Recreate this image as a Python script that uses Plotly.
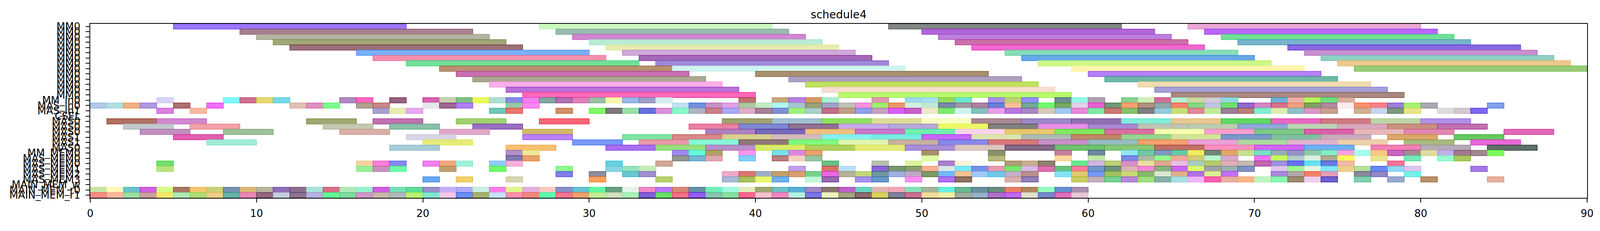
"""Gantt-style schedule chart (schedule4) rebuilt with Plotly."""

import plotly.graph_objects as go

# ---- row labels (top to bottom) -------------------------------------------
ROW_LABELS = (
    ["MM0"] * 14
    + ["MM_in0", "MAS_in0", "MAS_in1", "CSEL",
       "MAS0", "MAS0", "MAS0", "MAS1", "MAS1", "MAS0",
       "MM_MEM0", "MAS_MEM0", "MAS_MEM0", "MAS_MEM1", "MAS_MEM2", "MAS_MEM3",
       "MAIN_MEM_w", "MAIN_MEM_r0", "MAIN_MEM_r1"]
)

X_TICKS = [0, 10, 20, 30, 40, 50, 60, 70, 80, 90]

# ---- MM0 rows: 14-unit tasks ----------------------------------------------
MM0_LEN = 14
MM0_STARTS = [
    [5, 27, 48, 66],
    [9, 28, 50, 67],
    [10, 29, 51, 68],
    [11, 30, 52, 69],
    [12, 31, 53, 72],
    [16, 32, 55, 73],
    [17, 33, 56, 74],
    [19, 34, 57, 75],
    [21, 35, 59, 76],
    [22, 40, 60],
    [23, 42, 61],
    [24, 43, 63],
    [25, 44, 64],
    [26, 45, 65],
]
MM0_COLORS = [
    ["#9b77f8", "#ccf8c0", "#848884", "#e8a8d4"],
    ["#a88090", "#98bcb0", "#b068d8", "#b868f8"],
    ["#b4b4a4", "#d088d0", "#bc80dc", "#70e098"],
    ["#a0a878", "#b8ecd4", "#cc70a8", "#78b4cc"],
    ["#9c7078", "#e8ecb0", "#f068d0", "#8868e0"],
    ["#78b0f8", "#d0a8d8", "#88dcb8", "#c890d0"],
    ["#f490b0", "#a468b8", "#68a8e8", "#90d0c4"],
    ["#70e098", "#a088d8", "#ccf888", "#ecc890"],
    ["#b89070", "#d0f4f0", "#fff4b0", "#98cc78"],
    ["#c870b0", "#a89070", "#b480f4"],
    ["#aca890", "#aca0c0", "#70b8a8"],
    ["#f8b0e8", "#c0e060", "#f0dcb0"],
    ["#b870d8", "#f8dcd0", "#a4a0d8"],
    ["#ff68b8", "#b8f870", "#a88880"],
]

# ---- input rows: 1-unit tasks ---------------------------------------------
MM_IN0_STARTS = [4, 8, 9, 10, 11, 15, 16, 18, 20, 21, 22, 23, 24, 25, 26, 27,
                 28, 29, 30, 31, 32, 33, 34, 39, 41, 42, 43, 44, 47, 49, 50,
                 51, 52, 54, 55, 56, 58, 59, 60, 62, 63, 64, 65, 66, 67, 68,
                 71, 72, 73, 74, 75]
MM_IN0_COLORS = ["#d8d4f8", "#7ff8f8", "#d07090", "#e4d870", "#78d8e8",
                 "#b088c0", "#f868c0", "#986080", "#d860b0", "#c8d0b0",
                 "#80c088", "#e8f860", "#b0dcd4", "#8888e8", "#f080f0",
                 "#80a8a0", "#b070b0", "#e080b8", "#98c0a8", "#f8f8a8",
                 "#98b8e8", "#9ca0c8", "#d4ecf0", "#c07070", "#c8a880",
                 "#b880e0", "#d89868", "#a8f0d0", "#e098b0", "#a0d8e8",
                 "#a8dcf4", "#98d860", "#70e4d0", "#a890e8", "#c0d078",
                 "#9090f8", "#708c98", "#90f8e8", "#aca0b0", "#88d090",
                 "#d0f0b8", "#d07098", "#b8f0d0", "#d0d8a8", "#d4ccd8",
                 "#90d8e0", "#70b0d8", "#ecb0a8", "#b8f860", "#70e080",
                 "#d8b0a0"]

MAS_IN0_STARTS = [0, 1, 2, 3, 5, 7, 12, 13, 14, 16, 17, 20, 21, 22, 25, 26,
                  35, 36, 37, 38, 39, 40, 41, 42, 43, 44, 45, 46, 47, 48, 49,
                  50, 51, 52, 53, 54, 55, 56, 57, 58, 59, 60, 61, 62, 63, 64,
                  65, 66, 67, 68, 69, 70, 71, 72, 73, 74, 75, 76, 77, 78, 79,
                  80, 84]
MAS_IN0_COLORS = ["#b0c8e8", "#b0e0e0", "#f0b080", "#b098e0", "#b07070",
                  "#f070f8", "#e0c0b0", "#e090c0", "#80f890", "#b0a090",
                  "#c88888", "#e4e8ec", "#a06890", "#b080f0", "#98c8a8",
                  "#f888f0", "#c0e0f0", "#7090e0", "#c890c0", "#e0a0e8",
                  "#acc8a0", "#c4ecc4", "#b0f8f0", "#a8c4d4", "#98a078",
                  "#a0a0c8", "#c0c0b8", "#f890e0", "#a0ec70", "#e89868",
                  "#d4f0e0", "#c0e8d0", "#7888a8", "#a098a0", "#b080a0",
                  "#6880d8", "#f8c098", "#70a898", "#70f870", "#78a860",
                  "#e4d0e8", "#e860d0", "#709878", "#f8a070", "#b09080",
                  "#90a8a8", "#f88070", "#88d880", "#c0c4e4", "#70e070",
                  "#9068d0", "#d088c0", "#d87088", "#f0a080", "#80a060",
                  "#b088a0", "#fcecec", "#f89070", "#f88088", "#9c80d8",
                  "#a8f070", "#a8a8b4", "#80a0e8"]

MAS_IN1_STARTS = [4, 6, 17, 18, 19, 24, 25, 28, 30, 31, 32, 33, 34, 35, 36,
                  37, 38, 39, 40, 41, 42, 43, 44, 45, 46, 47, 48, 49, 50, 51,
                  52, 53, 54, 55, 56, 57, 58, 59, 60, 61, 62, 63, 64, 65, 66,
                  67, 68, 69, 70, 71, 72, 73, 74, 76, 77, 78, 79, 81, 82, 83]
MAS_IN1_COLORS = ["#d880e0", "#f8b8a0", "#a8a0d0", "#e8ecb0", "#e8a8f0",
                  "#70c8b8", "#e87870", "#d09068", "#80f868", "#807880",
                  "#98e0a8", "#6870e0", "#d890d8", "#88f8c8", "#b0b4c0",
                  "#c88088", "#a8a8f8", "#dcb0c4", "#a88098", "#8090d0",
                  "#a0f080", "#a8d0cc", "#c07088", "#c0a088", "#90a0e8",
                  "#c4a0c0", "#d860f8", "#c860c8", "#ece8c8", "#80e870",
                  "#ccf4ec", "#88c0c0", "#e8a0e8", "#b878e0", "#a888c0",
                  "#d8c8b8", "#a0c8f0", "#e888d8", "#80e8a8", "#c87870",
                  "#88c070", "#808080", "#98c8d8", "#c8e078", "#e08898",
                  "#c0ec98", "#988098", "#b88078", "#80f0d0", "#e0ecb0",
                  "#90c0c8", "#d898c0", "#c8a090", "#d0b090", "#c8d4f0",
                  "#809880", "#e8e488", "#dcdce0", "#d4c8d0", "#8068f0"]

CSEL_STARTS = []
CSEL_COLORS = []

# ---- MAS rows: 3-unit tasks -----------------------------------------------
MAS_LEN = 3
MAS_STARTS = [
    [1, 4, 13, 17, 22, 27, 38, 41, 44, 47, 50, 53, 56, 59, 62, 65, 68, 71,
     74, 77, 80],
    [2, 6, 14, 18, 23, 36, 39, 42, 45, 48, 51, 54, 57, 60, 63, 66, 69, 72,
     75, 78, 81],
    [3, 8, 15, 21, 26, 37, 40, 43, 46, 49, 52, 55, 58, 61, 64, 67, 70, 73,
     76, 79, 85],
    [5, 19, 26, 32, 35, 38, 41, 44, 47, 50, 53, 56, 59, 62, 65, 68, 71, 74,
     78, 82],
    [7, 20, 29, 33, 36, 39, 42, 45, 48, 51, 54, 57, 60, 63, 66, 69, 72, 75,
     79, 83],
    [18, 25, 31, 34, 37, 40, 43, 46, 49, 52, 55, 58, 61, 64, 67, 70, 73, 77,
     80, 84],
]
MAS_COLORS = [
    ["#b07060", "#d088d0", "#a0a870", "#c070b0", "#a0d070", "#f86878",
     "#a0a070", "#a0c0d0", "#90e060", "#dcdc98", "#f8fcc0", "#a88890",
     "#9c88c8", "#9070b0", "#80ecd8", "#e8c890", "#60d860", "#e868c0",
     "#d07880", "#bcd4a8", "#b090e8"],
    ["#c0c8cc", "#f4a0a8", "#c4c8b0", "#88c0a8", "#9870c0", "#e880a0",
     "#8088d0", "#907090", "#c8a8e8", "#b4a8d8", "#ecf868", "#808080",
     "#e890e8", "#a888d0", "#c0c4b4", "#bcccb0", "#90a8d8", "#bcd4b4",
     "#d8a8bc", "#c89080", "#c070b0"],
    ["#c090c0", "#9cc098", "#d8b0a8", "#e0a8c8", "#d0b868", "#b080c0",
     "#7868b8", "#f0c080", "#c878c8", "#70f0b0", "#f8d4ec", "#e8c870",
     "#80e860", "#d870a0", "#f4fcb0", "#f8a0cc", "#80c888", "#d860a8",
     "#e8b8b8", "#e088b0", "#e068b8"],
    ["#e060b0", "#d8d4e4", "#b880f8", "#80e4a0", "#d88888", "#d8d090",
     "#d4bcbc", "#88f0f0", "#78ece0", "#c868f8", "#dce4b0", "#acbcb4",
     "#c08868", "#98d490", "#d0e498", "#7898c8", "#80c0a0", "#c8acbc",
     "#d8a868", "#68c860"],
    ["#a0ecd8", "#e4ec78", "#7898f8", "#e898a8", "#88f8d8", "#907878",
     "#80f880", "#e0f4b0", "#c8b0a0", "#8888e8", "#d87878", "#c890c8",
     "#98bcc0", "#f4a070", "#e8a0d8", "#acd8a0", "#e0b4d0", "#ecd0a8",
     "#a8b880", "#e868d8"],
    ["#a8ccd8", "#f8c070", "#a870f0", "#98e080", "#b890c8", "#d8ec68",
     "#b0d060", "#e4ec78", "#a890d8", "#dcc8c0", "#846c88", "#70c070",
     "#88c878", "#c07068", "#f890c0", "#d068f0", "#70b0f0", "#f080b8",
     "#b4acb8", "#607068"],
]

# ---- memory rows: 1-unit tasks --------------------------------------------
MEM_STARTS = [
    [25, 26, 35, 36, 37, 39, 41, 42, 43, 50, 54, 58, 60, 62, 63, 64, 65, 66,
     67, 68, 69, 70, 71, 72, 73, 74, 75, 76, 77, 78, 79, 80, 81, 82, 83, 84],
    [25, 26, 35, 36, 37, 39, 41, 42, 43, 50, 54, 58, 60, 62, 63, 64, 65, 66,
     67, 68, 70, 71, 72, 73, 74, 75, 77, 79, 81, 82],
    [4, 16, 17, 18, 20, 21, 22, 24, 25, 31, 34, 44, 47, 49, 51, 52, 55, 56,
     57, 59, 60, 61, 62, 63, 64, 65, 66, 67, 68, 69, 70, 71, 72, 73, 74, 75,
     78],
    [4, 16, 17, 18, 21, 24, 28, 31, 32, 33, 42, 44, 45, 47, 48, 49, 50, 51,
     52, 53, 54, 55, 56, 57, 58, 59, 60, 61, 62, 63, 64, 65, 66, 67, 68, 69,
     71, 72, 73, 74, 75, 76, 77, 78, 79, 83],
    [28, 30, 32, 33, 38, 39, 40, 41, 42, 43, 44, 45, 46, 47, 48, 49, 50, 51,
     52, 53, 54, 55, 56, 58, 59, 60, 61, 62, 63, 64, 65, 66, 67, 68, 71, 72,
     73, 74, 76, 77, 79],
    [20, 22, 25, 30, 34, 38, 39, 40, 41, 43, 44, 46, 47, 49, 51, 52, 55, 56,
     59, 60, 61, 62, 63, 64, 65, 66, 67, 68, 69, 70, 71, 72, 73, 74, 76, 78,
     80, 84],
]
MEM_COLORS = [
    ["#b090c8", "#ece898", "#a088f0", "#68f8d8", "#b0a068", "#f898e8",
     "#78e0e8", "#d888e0", "#e8a070", "#a89070", "#889070", "#c880a0",
     "#7088a0", "#90e8f0", "#70c8a8", "#8098c0", "#68c8a8", "#f0ec68",
     "#708878", "#e0a868", "#c8dc98", "#78e0c8", "#98acb8", "#9890c8",
     "#90c8a8", "#88ecc8", "#f8a0e0", "#a8fcf0", "#f8c888", "#c868c0",
     "#a88890", "#e0dca0", "#c0b0e8", "#a07890", "#a08890", "#80f860"],
    ["#8078b0", "#e8a068", "#909890", "#78b4d0", "#e0a8b0", "#80d0f4",
     "#b88080", "#f4d0c4", "#98c4a0", "#e0fca8", "#b8b880", "#fcd8a0",
     "#c0e8a8", "#7888e8", "#a8bca0", "#98f890", "#f4a898", "#d0cc78",
     "#b8f8d0", "#d8a8c8", "#e878f0", "#c8fc60", "#b4ccd0", "#dcf0e0",
     "#aca890", "#fcfc60", "#e8e490", "#78e8b8", "#98fcd0", "#a8c860"],
    ["#70e070", "#f4d4a0", "#f880d8", "#8888f0", "#f080f0", "#f0a880",
     "#a0f0d8", "#90ccf8", "#f8b0d8", "#68d0e0", "#d0a898", "#68c080",
     "#b8c0b0", "#dcf4a0", "#a880c8", "#f8f4d8", "#b09c78", "#c8b090",
     "#908070", "#68e890", "#d0b4e0", "#bcd078", "#d890c8", "#e8e0a0",
     "#e0a890", "#e8c0e8", "#a8ccc0", "#b8c870", "#e0b0b8", "#c4bcb0",
     "#c068b0", "#9c90e0", "#6870f0", "#68e0f0", "#6878e0", "#f0b8a8",
     "#f87098"],
    ["#b8e480", "#98f098", "#c890c0", "#70f8a8", "#c0a070", "#70f870",
     "#90f890", "#88d4e4", "#98e0c0", "#c4ecb8", "#c0a0e8", "#d87068",
     "#b8e0f8", "#8868d8", "#789870", "#88a070", "#f8b090", "#d8e8e8",
     "#78e8f8", "#7890e8", "#e89ab0", "#78e870", "#d8b8e8", "#e070b0",
     "#68c080", "#f87898", "#7098c8", "#709080", "#dcb4b4", "#f088d8",
     "#88b080", "#c868f0", "#dcf870", "#a0a0a8", "#98b0b0", "#8090c0",
     "#dcc8ec", "#a0f890", "#e8f4e0", "#80e8f8", "#ecd090", "#b4e0a0",
     "#6888f8", "#90d8f4", "#dcc4ec", "#a878e8"],
    ["#8080e8", "#8c8c9c", "#68c8d0", "#a090d0", "#f0a8c8", "#d87870",
     "#a0b0c4", "#c0a070", "#d8a070", "#78d088", "#e868e0", "#b8b098",
     "#c0d878", "#7098a0", "#a0b0e0", "#c0a8c8", "#809868", "#78b8f8",
     "#f8c090", "#a0c8f8", "#70c8e8", "#c4b0c8", "#b89090", "#88e0f8",
     "#e0c870", "#7898f0", "#a0c060", "#c8d878", "#88b870", "#d8e8d0",
     "#e0b088", "#b070e8", "#dcf090", "#c070f8", "#a888d8", "#b0a8a8",
     "#f08068", "#e0a0b8", "#888898", "#9088c8", "#78f0e8"],
    ["#68a8f0", "#f0d070", "#d8d4b0", "#f8a060", "#b8d070", "#a8b8d8",
     "#a8c060", "#e8f870", "#70b0f0", "#c0f8d8", "#9868b0", "#a890f0",
     "#6898c8", "#f890f0", "#b070f0", "#907060", "#d8b0b0", "#9080b8",
     "#c8cc60", "#c4b0b8", "#78d090", "#b888d8", "#a0e080", "#88b0a8",
     "#a8e0e4", "#f0b8f8", "#f860b0", "#e8b0a0", "#f8b888", "#c0f4c0",
     "#88f8b0", "#9c8c70", "#f0d0f0", "#7060d0", "#80d0b0", "#98a8d0",
     "#b89068", "#e8b0a0"],
]

MAIN_W_STARTS = []
MAIN_W_COLORS = []

MAIN_R0_STARTS = [0, 1, 2, 3, 4, 5, 6, 7, 8, 9, 10, 11, 12, 13, 14, 15, 16,
                  17, 18, 19, 20, 21, 22, 23, 24, 25, 26, 27, 28, 29, 30, 31,
                  32, 33, 34, 35, 36, 37, 38, 39, 40, 41, 42, 43, 44, 45, 46,
                  47, 48, 49, 50, 51, 52, 53, 54, 55, 56, 57, 58, 59]
MAIN_R0_COLORS = ["#c8e4a8", "#fff8b8", "#68c4cc", "#d060e0", "#d8fc88",
                  "#a87868", "#f4c870", "#ccd078", "#7890b0", "#dcb878",
                  "#b8b4a0", "#9070b8", "#8c7090", "#a8e4dc", "#d87088",
                  "#b0e8b8", "#98f4d0", "#d060e0", "#78e0b8", "#60dc98",
                  "#9890c8", "#c8b0f8", "#b0a8f8", "#c8f0dc", "#f880e8",
                  "#e0f490", "#e0b0d8", "#f8ccc0", "#8890c8", "#68c0d0",
                  "#60f8a0", "#68a080", "#e4f4e8", "#f088c8", "#b878f8",
                  "#d88878", "#6890a8", "#70f0b8", "#a0f8e0", "#e4ecc0",
                  "#a0a870", "#70c0c8", "#58b0d8", "#a088c0", "#887870",
                  "#c060c8", "#68d4c0", "#e0b8b0", "#f0a8b8", "#88e0b8",
                  "#a8b498", "#68f0e0", "#68b890", "#6890a0", "#68907c",
                  "#e88068", "#b08860", "#98fcc0", "#6890d0", "#a890b0"]

MAIN_R1_STARTS = [0, 1, 2, 3, 4, 5, 6, 7, 8, 9, 10, 11, 12, 13, 14, 15, 16,
                  17, 18, 19, 20, 21, 22, 23, 24, 25, 26, 27, 28, 29, 30, 31,
                  32, 33, 34, 35, 36, 37, 38, 39, 40, 41, 42, 43, 44, 45, 46,
                  47, 48, 49, 50, 51, 52, 53, 54, 55, 56, 57, 58, 59]
MAIN_R1_COLORS = ["#f48c88", "#f8b8a0", "#a0dca0", "#c8a0a0", "#f4e870",
                  "#ace8b8", "#b0dc78", "#ecd088", "#68b4a8", "#e888b8",
                  "#946880", "#c4cce0", "#8c7490", "#b8b0e0", "#68f898",
                  "#80d8a0", "#d098c8", "#c8b8a8", "#b0b8b8", "#b8f078",
                  "#80e8d0", "#f8c8e8", "#6890f0", "#a8b070", "#c8e0f8",
                  "#f890b0", "#f08880", "#60f8b0", "#f07890", "#f0a070",
                  "#c0ec98", "#d0e0c0", "#a8f0b8", "#8060d8", "#68e068",
                  "#f07088", "#9060f0", "#88c4b0", "#88e0a0", "#f86890",
                  "#f8c0d0", "#f088c0", "#b8f0e0", "#7878e0", "#ecf4c0",
                  "#a0a880", "#906870", "#d8d060", "#808098", "#c87090",
                  "#f0dca0", "#f0eca8", "#a0aca0", "#98b0c8", "#b070c8",
                  "#c068f0", "#e0e0d0", "#7888c8", "#e070b8", "#e8c8d4"]


def edge_color(hex_color: str) -> str:
    """Darker outline: the same translucent colour laid over its own fill."""
    vals = [int(hex_color[i:i + 2], 16) for i in (1, 3, 5)]
    dark = [max(0, min(255, round(1.4 * v - 102))) for v in vals]
    return "rgb({},{},{})".format(*dark)


# rows in drawing order: (starts, colors, task length)
rows = [(s, c, MM0_LEN) for s, c in zip(MM0_STARTS, MM0_COLORS)]
rows += [
    (MM_IN0_STARTS, MM_IN0_COLORS, 1),
    (MAS_IN0_STARTS, MAS_IN0_COLORS, 1),
    (MAS_IN1_STARTS, MAS_IN1_COLORS, 1),
    (CSEL_STARTS, CSEL_COLORS, 1),
]
rows += [(s, c, MAS_LEN) for s, c in zip(MAS_STARTS, MAS_COLORS)]
rows += [(s, c, 1) for s, c in zip(MEM_STARTS, MEM_COLORS)]
rows += [
    (MAIN_W_STARTS, MAIN_W_COLORS, 1),
    (MAIN_R0_STARTS, MAIN_R0_COLORS, 1),
    (MAIN_R1_STARTS, MAIN_R1_COLORS, 1),
]

bar_y, bar_base, bar_len, bar_fill, bar_edge = [], [], [], [], []
for idx, (starts, colors, length) in enumerate(rows):
    for start, color in zip(starts, colors):
        bar_y.append(idx)
        bar_base.append(start)
        bar_len.append(length)
        bar_fill.append(color)
        bar_edge.append(edge_color(color))

fig = go.Figure()
fig.add_trace(
    go.Bar(
        y=bar_y,
        x=bar_len,
        base=bar_base,
        orientation="h",
        width=1,
        marker=dict(color=bar_fill, line=dict(color=bar_edge, width=1.5)),
        showlegend=False,
        hoverinfo="skip",
    )
)

# page body keeps an 8px margin and the photo comes out ~1% enlarged,
# so the figure box is sized to land the axes where the original has them
FIG_W, FIG_H = 4085, 566
axis_font = dict(family="DejaVu Sans", size=26, color="black")

fig.update_layout(
    width=FIG_W,
    height=FIG_H,
    margin=dict(l=223, r=30, t=53, b=55),
    plot_bgcolor="white",
    paper_bgcolor="white",
    barmode="overlay",
    title=dict(
        text="schedule4",
        x=2139 / FIG_W,
        xanchor="center",
        y=1 - 29 / FIG_H,
        yanchor="middle",
        font=dict(family="DejaVu Sans", size=28, color="black"),
    ),
    xaxis=dict(
        range=[0, 90],
        tickvals=X_TICKS,
        ticks="outside",
        ticklen=10,
        tickwidth=2,
        tickcolor="black",
        ticklabelstandoff=6,
        ticklabeloverflow="allow",
        showline=True,
        linecolor="black",
        linewidth=2,
        mirror=True,
        showgrid=False,
        zeroline=False,
        tickfont=axis_font,
    ),
    yaxis=dict(
        range=[len(ROW_LABELS) - 0.5, -0.5],
        tickvals=list(range(len(ROW_LABELS))),
        ticktext=ROW_LABELS,
        ticks="outside",
        ticklen=10,
        tickwidth=2,
        tickcolor="black",
        ticklabelstandoff=8,
        showline=True,
        linecolor="black",
        linewidth=2,
        mirror=True,
        showgrid=False,
        zeroline=False,
        tickfont=axis_font,
    ),
)

fig.write_html("out.html")
